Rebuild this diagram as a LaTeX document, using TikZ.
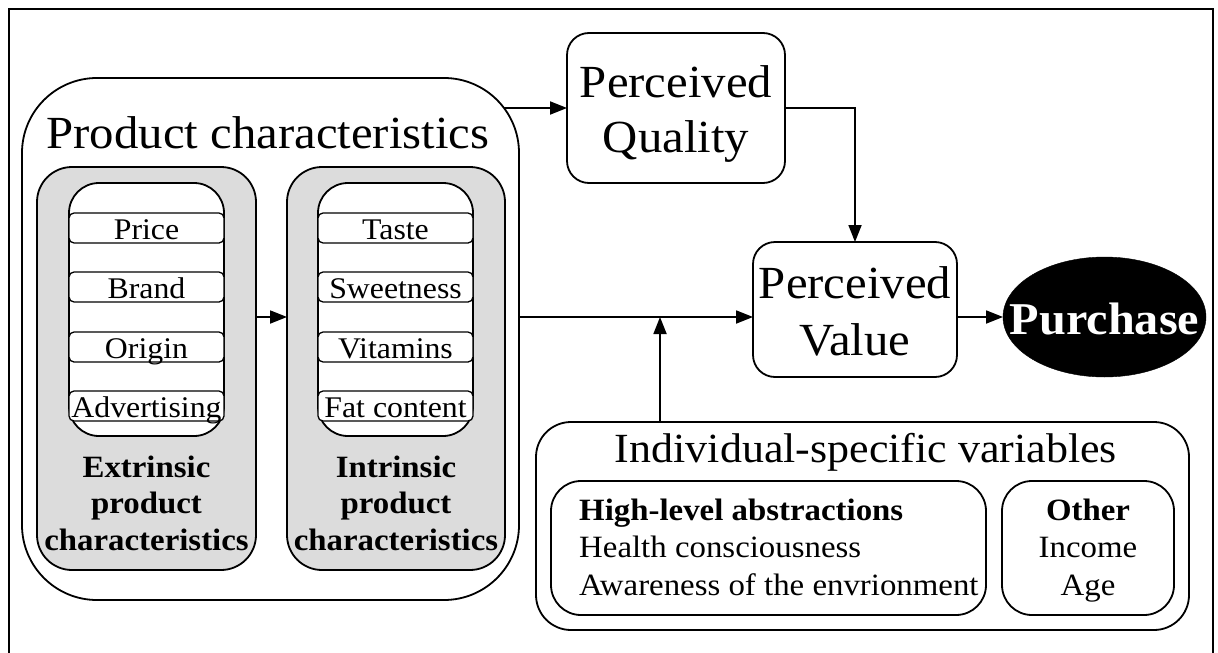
\documentclass[tikz,border=0pt]{standalone}
\usepackage{fontspec}
\setmainfont{Liberation Serif}[FakeStretch=1.06]
\usetikzlibrary{arrows.meta,shapes.geometric}
\definecolor{panelgrey}{RGB}{220,220,220}
\begin{document}
\begin{tikzpicture}[x=1pt,y=-1pt,
  frame/.style={line width=1.8pt},
  rbox/.style={draw, line width=1.8pt, rounded corners=#1, inner sep=0pt, outer sep=0pt},
  item/.style={draw, line width=1.3pt, rounded corners=5pt, fill=white,
    minimum width=155pt, minimum height=30pt, inner sep=0pt,
    text height=22pt, text depth=0pt, font=\fontsize{30}{36}\selectfont},
  txt/.style={inner sep=0pt, anchor=base},
  big/.style={font=\fontsize{46}{56}\selectfont},
  small/.style={font=\fontsize{31}{37.5}\selectfont},
  smallbold/.style={font=\bfseries\fontsize{31}{36.5}\selectfont},
  arr/.style={line width=1.8pt, -{Triangle[length=17pt,width=13pt]}},
]
\useasboundingbox (0,0) rectangle (1218,653);

% outer frame (open at the bottom)
\draw[frame] (9,660) -- (9,9) -- (1213,9) -- (1213,660);

% product characteristics group
\node[rbox=75pt, minimum width=497pt, minimum height=522pt] (prod) at (270.5,339) {};
\node[txt, big] (prodtitle) at (268,148) {Product characteristics};

% extrinsic panel
\node[rbox=35pt, fill=panelgrey, minimum width=219pt, minimum height=403pt] (extg) at (146.5,368.5) {};
\node[rbox=30pt, fill=white, minimum width=155pt, minimum height=253pt] (extw) at (146.5,309.5) {};
\node[item] (price) at (146.5,228) {Price};
\node[item] (brand) at (146.5,287) {Brand};
\node[item] (origin) at (146.5,347) {Origin};
\node[item] (advert) at (146.5,406) {Advertising};
% multi-line texts: the base anchor sits on the last line
\node[txt, smallbold, align=center] (extlabel) at (146.5,550) {Extrinsic\\product\\characteristics};

% intrinsic panel
\node[rbox=35pt, fill=panelgrey, minimum width=218pt, minimum height=403pt] (intg) at (396,368.5) {};
\node[rbox=30pt, fill=white, minimum width=155pt, minimum height=253pt] (intw) at (395.5,309.5) {};
\node[item] (taste) at (395.5,228) {Taste};
\node[item] (sweet) at (395.5,287) {Sweetness};
\node[item] (vitam) at (395.5,347) {Vitamins};
\node[item] (fat) at (395.5,406) {Fat content};
\node[txt, smallbold, align=center] (intlabel) at (396,550) {Intrinsic\\product\\characteristics};

% perceived quality / value and purchase
\node[rbox=22pt, minimum width=218pt, minimum height=150pt] (pq) at (676,108) {};
\node[txt, big, font=\fontsize{46}{55}\selectfont, align=center] (pqtext) at (676,152) {Perceived\\Quality};
\node[rbox=22pt, minimum width=204pt, minimum height=135pt] (pv) at (855,309.5) {};
\node[txt, big, font=\fontsize{46}{57}\selectfont, align=center] (pvtext) at (855,355) {Perceived\\Value};
\node[ellipse, draw, fill=black, minimum width=203pt, minimum height=120pt,
  inner sep=0pt, outer sep=0pt] (pur) at (1104.5,317) {};
\node[txt, text=white, font=\bfseries\fontsize{45.5}{50}\selectfont] (purtext) at (1104.5,334) {Purchase};

% individual-specific variables
\node[rbox=35pt, minimum width=653pt, minimum height=208pt] (indiv) at (862.5,526) {};
\node[txt, font=\fontsize{41.5}{50}\selectfont] (indivtitle) at (866,462) {Individual-specific variables};
\node[rbox=30pt, minimum width=435pt, minimum height=134pt] (hl) at (768.5,548) {};
\node[txt, small, anchor=base west, align=left] (hltext) at (579,595)
  {\textbf{High-level abstractions}\\Health consciousness\\Awareness of the envrionment};
\node[rbox=30pt, minimum width=172pt, minimum height=134pt] (oth) at (1088,548) {};
\node[txt, small, align=center] (othtext) at (1088,595) {\textbf{Other}\\Income\\Age};

% connectors
\coordinate (mid) at (0,317);
\coordinate (corner) at (504,108);
\coordinate (join) at (660,317);
\draw[arr] (extg.east |- mid) -- (intg.west |- mid);
\draw[arr] (corner) -- (pq.west);
\draw[arr] (pq.east) -| (pv.north);
\draw[arr] (prod.east |- mid) -- (pv.west |- mid);
\draw[arr] (indiv.north -| join) -- (join);
\draw[arr] (pv.east |- mid) -- (pur.west);
\end{tikzpicture}
\end{document}
